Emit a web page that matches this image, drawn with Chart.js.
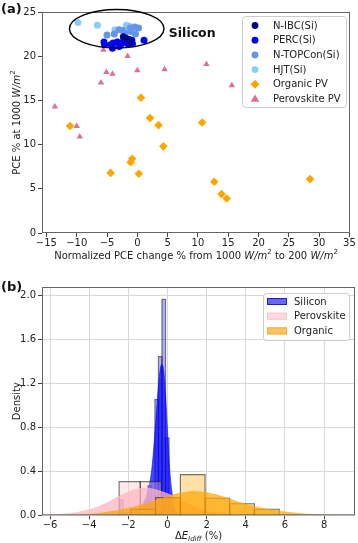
<!DOCTYPE html>
<html>
<head>
<meta charset="utf-8">
<script src="https://cdn.jsdelivr.net/npm/chart.js@4.4.1/dist/chart.umd.min.js"></script>
<style>
  body { margin: 0; background: #fff; }
  #chartA { position: absolute; left: 0; top: 0; }
  #chartB { position: absolute; left: 0; top: 270px; }
</style>
</head>
<body>
<canvas id="chartA" width="358" height="270"></canvas>
<canvas id="chartB" width="358" height="273"></canvas>
<script>
const FONT = '"DejaVu Sans", sans-serif';

// ---- panel (a): [normalized PCE change %, PCE % at 1000 W/m2] ----
const nibcPoints = [[-2.3, 22.2], [-1.8, 22.0], [-1.2, 21.6]];
const percPoints = [[-5.5, 21.6], [-5.4, 21.3], [-4.0, 21.5], [-3.3, 21.6], [-4.1, 20.9], [-3.0, 21.1],
  [-2.6, 21.4], [-2.3, 21.7], [-1.6, 21.4], [-1.35, 21.9], [-0.9, 21.8], [-0.8, 21.4], [1.1, 21.8], [-4.4, 21.3]];
const topconPoints = [[-5.0, 22.4], [-3.8, 22.5], [-3.0, 23.0], [-2.4, 22.9], [-1.2, 23.2], [-0.4, 23.3],
  [-1.0, 22.8], [-2.0, 22.6], [-0.3, 22.5], [0.2, 23.2]];
const hjtPoints = [[-9.8, 23.8], [-6.6, 23.5], [-1.8, 23.5], [-3.7, 23.0], [-1.3, 23.4]];
const organicPoints = [[-11.1, 12.1], [0.6, 15.3], [2.1, 13.0], [3.5, 12.2], [10.7, 12.5], [-4.4, 6.8],
  [-1.1, 8.0], [-0.85, 8.4], [0.25, 6.7], [4.3, 9.8], [12.7, 5.8], [13.9, 4.4], [14.75, 3.9], [28.5, 6.1]];
const perovskitePoints = [[-13.6, 14.3], [-10.0, 12.1], [-9.5, 10.9], [-6.0, 17.0], [-5.1, 18.2], [-4.1, 18.0],
  [-5.6, 20.7], [-1.6, 20.0], [0.0, 18.4], [4.5, 18.5], [11.4, 19.1], [15.6, 16.7]];
const xTicksA = [-15, 35, 5];   // first, last, step
const yTicksA = [0, 25, 5];
const siliconEllipse = { x: -3.4, y: 23.1, rx: 7.8, ry: 2.18 };

// ---- panel (b): histograms (bin edges + density) and KDE curves ----
const siliconEdges = [-2.44, -2.26, -2.08, -1.90, -1.72, -1.54, -1.36, -1.18, -1.00, -0.82, -0.64, -0.46, -0.28, -0.10, 0.08];
const siliconDensity = [0.14, 0, 0, 0, 0, 0, 0, 0.13, 0.27, 0, 1.05, 1.44, 1.96, 0.7];
const perovskiteEdges = [-2.47, -1.39, -0.31];
const perovskiteDensity = [0.305, 0.305];
const organicEdges = [-1.87, -0.61, 0.66, 1.92, 3.18, 4.44, 5.71];
const organicDensity = [0.055, 0.16, 0.37, 0.155, 0.105, 0.055];

const siliconKdeX = [-2.6, -2.2, -1.8, -1.5, -1.2, -1.0, -0.8, -0.6, -0.45, -0.3, -0.2, -0.1, 0.0, 0.1, 0.2, 0.35, 0.5, 0.7];
const siliconKdeY = [0.0, 0.02, 0.04, 0.06, 0.12, 0.22, 0.42, 0.85, 1.2, 1.37, 1.32, 1.1, 0.78, 0.45, 0.25, 0.08, 0.02, 0.0];
const perovskiteKdeX = [-6, -5, -4.5, -4, -3.5, -3, -2.5, -2, -1.5, -1.2, -0.8, -0.3, 0.2, 0.7, 1.2, 1.7, 2.2, 2.8, 3.5, 4.2];
const perovskiteKdeY = [0.003, 0.015, 0.03, 0.05, 0.08, 0.12, 0.17, 0.21, 0.24, 0.245, 0.24, 0.215, 0.18, 0.13, 0.09, 0.055, 0.03, 0.013, 0.004, 0.0];
const organicKdeX = [-4.5, -4, -3.5, -3, -2.5, -2, -1.5, -1, -0.5, 0, 0.5, 1, 1.3, 1.8, 2.3, 2.8, 3.3, 3.8, 4.3, 4.8, 5.3, 5.8, 6.3, 6.8, 7.3, 7.8, 8.3];
const organicKdeY = [0.003, 0.008, 0.017, 0.03, 0.045, 0.063, 0.085, 0.11, 0.14, 0.17, 0.195, 0.21, 0.215, 0.21, 0.195, 0.17, 0.14, 0.11, 0.085, 0.065, 0.048, 0.035, 0.024, 0.015, 0.008, 0.004, 0.001];
const xTicksB = [-6, 8, 2];
const yTicksB = [0, 2.0, 0.4];

const minus = v => String(v).replace('-', '\u2212');

// text with italic / superscript / subscript pieces, centred on (x, y)
function richText(ctx, parts, x, y, size, rotate) {
  ctx.save();
  ctx.translate(x, y);
  if (rotate) ctx.rotate(-Math.PI / 2);
  const fontFor = p => (p.i ? 'italic ' : '') + (p.sup || p.sub ? Math.round(size * 0.7) : size) + 'px ' + FONT;
  let total = 0;
  parts.forEach(p => { ctx.font = fontFor(p); p.w = ctx.measureText(p.t).width; total += p.w; });
  let cx = -total / 2;
  ctx.fillStyle = '#222';
  ctx.textAlign = 'left';
  ctx.textBaseline = 'middle';
  parts.forEach(p => {
    ctx.font = fontFor(p);
    ctx.fillText(p.t, cx, p.sup ? -size * 0.38 : p.sub ? size * 0.3 : 0);
    cx += p.w;
  });
  ctx.restore();
}

function marker(ctx, style, x, y, r, color) {
  ctx.fillStyle = color;
  ctx.beginPath();
  if (style === 'circle') ctx.arc(x, y, r, 0, Math.PI * 2);
  else if (style === 'rectRot') { ctx.moveTo(x, y - r); ctx.lineTo(x + r, y); ctx.lineTo(x, y + r); ctx.lineTo(x - r, y); }
  else { ctx.moveTo(x, y - r); ctx.lineTo(x + r * 0.95, y + r * 0.6); ctx.lineTo(x - r * 0.95, y + r * 0.6); }
  ctx.closePath();
  ctx.fill();
}

function legendBox(ctx, x, y, w, h) {
  ctx.fillStyle = 'rgba(255,255,255,0.85)';
  ctx.strokeStyle = '#cccccc';
  ctx.lineWidth = 1;
  ctx.beginPath();
  ctx.roundRect(x + 0.5, y + 0.5, w, h, 3);
  ctx.fill();
  ctx.stroke();
}

function frame(chart) {
  const { ctx, chartArea: ca } = chart;
  ctx.strokeStyle = '#666';
  ctx.lineWidth = 1;
  ctx.strokeRect(ca.left + 0.5, ca.top + 0.5, ca.right - ca.left - 1, ca.bottom - ca.top - 1);
}

// ---------------- panel (a) ----------------
const seriesA = [
  { label: 'N-IBC(Si)', pts: nibcPoints, color: '#00008b', style: 'circle', r: 3.5 },
  { label: 'PERC(Si)', pts: percPoints, color: '#0000ff', style: 'circle', r: 3.5 },
  { label: 'N-TOPCon(Si)', pts: topconPoints, color: '#6495ed', style: 'circle', r: 3.5 },
  { label: 'HJT(Si)', pts: hjtPoints, color: '#87cefa', style: 'circle', r: 3.5 },
  { label: 'Organic PV', pts: organicPoints, color: '#ffa500', style: 'rectRot', r: 4.3 },
  { label: 'Perovskite PV', pts: perovskitePoints, color: '#db7093', style: 'triangle', r: 3.7 }
];

const panelA = {
  id: 'panelA',
  afterDraw(chart) {
    const { ctx, chartArea: ca, scales: { x, y } } = chart;
    ctx.save();
    frame(chart);

    const cx = x.getPixelForValue(siliconEllipse.x);
    const cy = y.getPixelForValue(siliconEllipse.y);
    const rx = x.getPixelForValue(siliconEllipse.x + siliconEllipse.rx) - cx;
    const ry = cy - y.getPixelForValue(siliconEllipse.y + siliconEllipse.ry);
    ctx.beginPath();
    ctx.ellipse(cx, cy, rx, ry, 0, 0, Math.PI * 2);
    ctx.strokeStyle = '#000';
    ctx.lineWidth = 1.4;
    ctx.stroke();

    ctx.fillStyle = '#111';
    ctx.font = 'bold 12.5px ' + FONT;
    ctx.textAlign = 'left';
    ctx.textBaseline = 'middle';
    ctx.fillText('Silicon', x.getPixelForValue(5.2), y.getPixelForValue(22.55));

    // legend
    const bx = ca.right - 108, by = ca.top + 4;
    legendBox(ctx, bx, by, 104, 91);
    ctx.font = '10px ' + FONT;
    seriesA.forEach((s, i) => {
      const ly = by + 9.5 + i * 14.7;
      marker(ctx, s.style, bx + 13, ly, s.style === 'circle' ? 3.4 : 4.5, s.color);
      ctx.fillStyle = '#222';
      ctx.fillText(s.label, bx + 31, ly + 0.5);
    });

    ctx.font = 'bold 13px ' + FONT;
    ctx.fillStyle = '#111';
    ctx.fillText('(a)', 1, 10);

    richText(ctx, [{ t: 'Normalized PCE change % from 1000 ' }, { t: 'W/m', i: 1 }, { t: '2', sup: 1 },
      { t: ' to 200 ' }, { t: 'W/m', i: 1 }, { t: '2', sup: 1 }], (ca.left + ca.right) / 2, 256, 10);
    richText(ctx, [{ t: 'PCE % at 1000 ' }, { t: 'W/m', i: 1 }, { t: '2', sup: 1 }], 17, (ca.top + ca.bottom) / 2, 10, true);
    ctx.restore();
  }
};

const tickFont = { family: FONT, size: 10 };

new Chart(document.getElementById('chartA'), {
  type: 'scatter',
  data: {
    datasets: seriesA.map(s => ({
      label: s.label,
      data: s.pts.map(p => ({ x: p[0], y: p[1] })),
      pointStyle: s.style,
      pointRadius: s.r,
      pointBackgroundColor: s.color,
      pointBorderWidth: 0,
      pointHoverRadius: s.r
    }))
  },
  options: {
    responsive: false,
    animation: false,
    events: [],
    layout: { padding: { top: 12, right: 8, left: 0, bottom: 0 } },
    plugins: { legend: { display: false }, tooltip: { enabled: false } },
    scales: {
      x: {
        type: 'linear', min: -15.73, max: 35.1,
        border: { display: false },
        grid: { drawOnChartArea: false, tickLength: 4, color: '#444' },
        ticks: { stepSize: xTicksA[2], includeBounds: false, autoSkip: false, maxRotation: 0, padding: 0,
          color: '#222', font: tickFont, callback: minus },
        afterFit: s => { s.height = 37; }
      },
      y: {
        min: yTicksA[0], max: yTicksA[1],
        border: { display: false },
        grid: { drawOnChartArea: false, tickLength: 4, color: '#444' },
        ticks: { stepSize: yTicksA[2], includeBounds: false, padding: 2, color: '#222', font: tickFont },
        afterFit: s => { s.width = 42; }
      }
    }
  },
  plugins: [panelA]
});

// ---------------- panel (b) ----------------
const groupsB = [
  { label: 'Silicon', edges: siliconEdges, dens: siliconDensity, kx: siliconKdeX, ky: siliconKdeY,
    bar: 'rgba(0,0,255,0.3)', kde: 'rgba(0,0,255,0.72)', patch: 'rgba(40,40,240,0.7)', edge: '#2020c0' },
  { label: 'Perovskite', edges: perovskiteEdges, dens: perovskiteDensity, kx: perovskiteKdeX, ky: perovskiteKdeY,
    bar: 'rgba(255,192,203,0.35)', kde: 'rgba(255,182,193,0.75)', patch: 'rgba(255,192,203,0.6)', edge: '#f5c6d0' },
  { label: 'Organic', edges: organicEdges, dens: organicDensity, kx: organicKdeX, ky: organicKdeY,
    bar: 'rgba(255,165,0,0.35)', kde: 'rgba(255,165,0,0.7)', patch: 'rgba(255,175,40,0.75)', edge: '#f0b040' }
];

const datasetsB = [];
groupsB.forEach(g => {
  g.dens.forEach((h, i) => {
    if (!h) return;
    datasetsB.push({
      data: [{ x: g.edges[i], y: 0 }, { x: g.edges[i], y: h }, { x: g.edges[i + 1], y: h }, { x: g.edges[i + 1], y: 0 }],
      fill: 'origin', backgroundColor: g.bar, borderColor: 'rgba(30,30,30,0.6)', borderWidth: 1.2,
      pointRadius: 0, tension: 0
    });
  });
  datasetsB.push({
    data: g.kx.map((v, i) => ({ x: v, y: g.ky[i] })),
    fill: 'origin', backgroundColor: g.kde, borderColor: g.kde, borderWidth: 0.8,
    pointRadius: 0, cubicInterpolationMode: 'monotone'
  });
});
// first pushed is drawn first (behind)
datasetsB.forEach((d, i) => { d.order = datasetsB.length - i; });

const panelB = {
  id: 'panelB',
  afterDraw(chart) {
    const { ctx, chartArea: ca } = chart;
    ctx.save();
    frame(chart);

    const bx = ca.right - 92, by = ca.top + 6;
    legendBox(ctx, bx, by, 86, 47);
    ctx.font = '10px ' + FONT;
    ctx.textAlign = 'left';
    ctx.textBaseline = 'middle';
    groupsB.forEach((g, i) => {
      const ly = by + 8.5 + i * 14.7;
      ctx.fillStyle = '#fff';
      ctx.fillRect(bx + 4, ly - 3.5, 20, 7);
      ctx.fillStyle = g.patch;
      ctx.fillRect(bx + 4, ly - 3.5, 20, 7);
      ctx.strokeStyle = g.edge;
      ctx.lineWidth = 1;
      ctx.strokeRect(bx + 4.5, ly - 3, 19, 6);
      ctx.fillStyle = '#222';
      ctx.fillText(g.label, bx + 31, ly + 0.5);
    });

    ctx.font = 'bold 13px ' + FONT;
    ctx.fillStyle = '#111';
    ctx.fillText('(b)', 1, 18);

    richText(ctx, [{ t: '\u0394' }, { t: 'E', i: 1 }, { t: 'Idiff', i: 1, sub: 1 }, { t: ' (%)' }], (ca.left + ca.right) / 2, 266, 10);
    richText(ctx, [{ t: 'Density' }], 17, (ca.top + ca.bottom) / 2, 10, true);
    ctx.restore();
  }
};

new Chart(document.getElementById('chartB'), {
  type: 'line',
  data: { datasets: datasetsB },
  options: {
    responsive: false,
    animation: false,
    events: [],
    layout: { padding: { top: 17, right: 3, left: 0, bottom: 0 } },
    plugins: { legend: { display: false }, tooltip: { enabled: false } },
    scales: {
      x: {
        type: 'linear', min: -6.41, max: 9.58,
        border: { display: false },
        grid: { color: '#d9d9d9', tickColor: '#444', tickLength: 4 },
        ticks: { stepSize: xTicksB[2], includeBounds: false, autoSkip: false, maxRotation: 0, padding: 0,
          color: '#222', font: tickFont, callback: minus },
        afterFit: s => { s.height = 27.7; }
      },
      y: {
        type: 'linear', min: yTicksB[0], max: 2.073,
        border: { display: false },
        grid: { color: '#d9d9d9', tickColor: '#444', tickLength: 4 },
        ticks: { stepSize: yTicksB[2], includeBounds: false, padding: 2, color: '#222', font: tickFont,
          callback: v => v.toFixed(1) },
        afterFit: s => { s.width = 42; }
      }
    }
  },
  plugins: [panelB]
});
</script>
</body>
</html>
